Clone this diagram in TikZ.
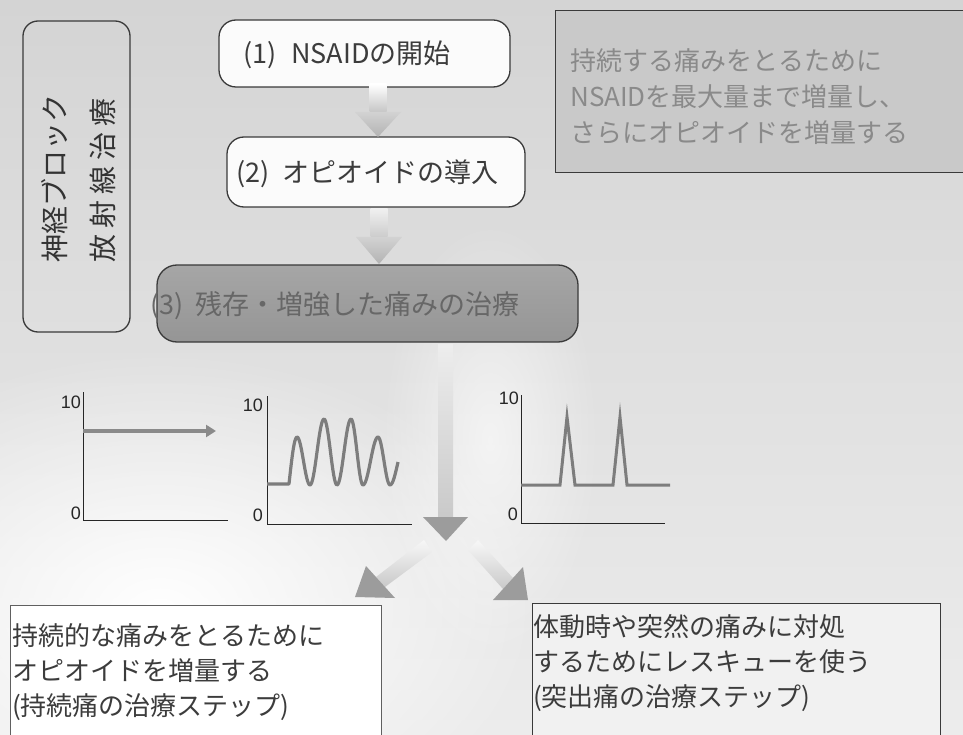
\documentclass[tikz,border=0pt]{standalone}
\usepackage{fontspec}
\newfontfamily\jp{Noto Sans CJK JP}
\newfontfamily\lab{Liberation Sans}
\usetikzlibrary{fadings,calc,arrows.meta}
\definecolor{bgtop}{HTML}{D4D4D4}
\definecolor{bgbot}{HTML}{ECECEC}
\definecolor{txtdark}{HTML}{3C3C3C}
\definecolor{boxline}{HTML}{3A3A3A}
\definecolor{bthreetop}{HTML}{A6A6A6}
\definecolor{bthreebot}{HTML}{959595}
\definecolor{bthreetext}{HTML}{676767}
\definecolor{notefill}{HTML}{C9C9C9}
\definecolor{notetext}{HTML}{8A8A8A}
\definecolor{curvegray}{HTML}{7D7D7D}
\definecolor{arrgray}{HTML}{9C9C9C}
\definecolor{boxwhite}{HTML}{FBFBFB}
\definecolor{boxlight}{HTML}{F1F1F1}
\tikzfading[name=fadeout, inner color=transparent!0, outer color=transparent!100]
\begin{document}
\begin{tikzpicture}[x=1pt,y=-1pt,
  rbox/.style={draw=boxline, line width=1.3pt, rounded corners=17pt, inner sep=0pt},
  jtext/.style={font=\fontsize{26}{36}\jp, inner sep=0pt, anchor=west, text=txtdark, align=left},
  steptext/.style={jtext, font=\fontsize{27}{27}\jp},
  sidetext/.style={jtext, font=\fontsize{28}{28}\jp, text=black!80, rotate=90},
  axisline/.style={draw=black!85, line width=1pt},
  curve/.style={draw=curvegray, line width=3.2pt, line join=round},
  num/.style={font=\fontsize{18}{18}\lab, inner sep=0pt, anchor=east, text=black!85},
  headfill/.style={fill=arrgray},
  ]
\useasboundingbox (0,0) rectangle (963,735);
% background
\shade[top color=bgtop,bottom color=bgbot] (0,0) rectangle (963,735);
\fill[white,path fading=fadeout] (160,610) ellipse [x radius=380, y radius=260];
\fill[white,opacity=0.6,path fading=fadeout] (490,440) ellipse [x radius=110, y radius=220];

% left vertical box
\node[rbox, rounded corners=15pt, minimum width=107pt, minimum height=311pt] (side) at (76.5,176.5) {};
\node[sidetext] (sideA) at (55,263) {神経ブロック};
\node[sidetext] (sideB) at (103,263) {放\hspace{6pt}射\hspace{6pt}線\hspace{6pt}治\hspace{6pt}療};

% step boxes
\node[rbox, fill=boxwhite, minimum width=291pt, minimum height=67pt] (b1) at (364.5,53.5) {};
\node[steptext] (t1) at (243,55) {(1)\hspace{0.55em}NSAIDの開始};
\node[rbox, fill=boxwhite, minimum width=298pt, minimum height=70pt] (b2) at (376,172) {};
\node[steptext] (t2) at (236,174) {(2)\hspace{0.5em}オピオイドの導入};
\node[rbox, rounded corners=20pt, top color=bthreetop, bottom color=bthreebot, minimum width=421pt, minimum height=77pt] (b3) at (367.5,303.5) {};
\node[steptext, text=bthreetext] (t3) at (150,306) {(3)\hspace{0.45em}残存・増強した痛みの治療};

% note box
\node[draw=boxline, line width=0.9pt, fill=notefill, minimum width=412pt, minimum height=162pt, inner sep=0pt] (note) at (761,91) {};
\node[jtext, text=notetext] (nt) at (570,97) {持続する痛みをとるために\\NSAIDを最大量まで増量し、\\さらにオピオイドを増量する};

% flow arrows between steps
\coordinate (a1) at (378,84);
\shade[top color=white, bottom color=gray!45] ($(a1)+(-8.5,0)$) rectangle ($(a1)+(8.5,28)$);
\shade[top color=gray!35, bottom color=gray!60] ($(a1)+(-23,28)$) -- ($(a1)+(23,28)$) -- ($(a1)+(0,53)$) -- cycle;
\coordinate (a2) at (379,209);
\shade[top color=gray!12, bottom color=gray!40] ($(a2)+(-8.5,0)$) rectangle ($(a2)+(8.5,28)$);
\shade[top color=gray!35, bottom color=gray!60] ($(a2)+(-23,28)$) -- ($(a2)+(23,28)$) -- ($(a2)+(0,55)$) -- cycle;

% big down arrow
\coordinate (a3) at (445.5,344);
\shade[top color=gray!14, middle color=gray!38, bottom color=gray!42] ($(a3)+(-7.5,0)$) rectangle ($(a3)+(7.5,173)$);
\fill[headfill] ($(a3)+(-22.5,173)$) -- ($(a3)+(22.5,173)$) -- ($(a3)+(0.5,197)$) -- cycle;

% diagonal arrows
\shade[top color=gray!6, bottom color=gray!42] (424,540) -- (432,552) -- (385,587) -- (376,577) -- cycle;
\fill[headfill] (366,566) -- (395,598) -- (355,597) -- cycle;
\shade[top color=gray!6, bottom color=gray!42] (468,550) -- (478,540) -- (513,578) -- (503,589) -- cycle;
\fill[headfill] (493,600) -- (523,567) -- (528,600) -- cycle;

% graph 1
\coordinate (g1o) at (83,520);
\draw[axisline] (83,392) -- (g1o) -- (228,520);
\node[num] (g1t) at (81,402) {10};
\node[num] (g1z) at (81,513) {0};
\coordinate (g1s) at (83,431);
\coordinate (g1e) at (216,431);
\draw[draw=curvegray!90, line width=4pt, -{Triangle[length=10pt,width=12pt]}] (g1s) -- (g1e);

% graph 2
\coordinate (g2o) at (267,524);
\draw[axisline] (267,396) -- (g2o) -- (412,524);
\node[num] (g2t) at (263,405) {10};
\node[num] (g2z) at (263,515) {0};
\draw[curve] (267,484) -- (289,484) sin (297,437) cos (303.5,461) sin (310,485) cos (317,452) sin (324,419) cos (330.5,452) sin (337,485) cos (344,452) sin (351,419) cos (357,452) sin (363,485) cos (370.5,461) sin (378,437) cos (384,461) sin (390,485) cos (398,462);

% graph 3
\coordinate (g3o) at (521,523);
\draw[axisline] (521,395) -- (g3o) -- (665,523);
\node[num] (g3t) at (519,398) {10};
\node[num] (g3z) at (518,514) {0};
\draw[curve, line width=3pt, line join=miter] (521,485) -- (560,485) -- (567,417) -- (575,485) -- (613,485) -- (620,417) -- (627,485) -- (670,485);

% result boxes
\node[draw=gray!75!black, line width=0.8pt, fill=white, minimum width=371pt, minimum height=140pt, inner sep=0pt] (bl) at (195.5,675) {};
\node[jtext, font=\fontsize{26}{35}\jp] (blt) at (12,672) {持続的な痛みをとるために\\オピオイドを増量する\\(持続痛の治療ステップ)};
\node[draw=boxline, line width=0.9pt, fill=boxlight, minimum width=408pt, minimum height=142pt, inner sep=0pt] (br) at (736,674) {};
\node[jtext, font=\fontsize{26}{35}\jp] (brt) at (533,663) {体動時や突然の痛みに対処\\するためにレスキューを使う\\(突出痛の治療ステップ)};
\end{tikzpicture}
\end{document}
